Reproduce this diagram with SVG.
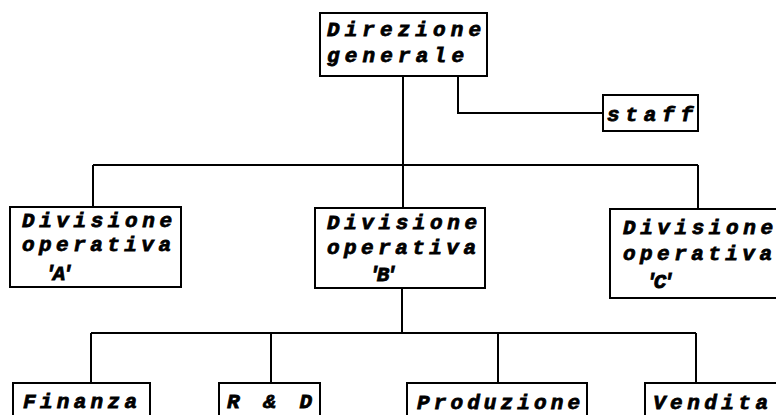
<svg xmlns="http://www.w3.org/2000/svg" width="776" height="415" viewBox="0 0 776 415">
<style>
.box{fill:#fff;stroke:#000;stroke-width:2}
.ln{fill:none;stroke:#000;stroke-width:2}
text{font-family:"Liberation Mono","DejaVu Sans Mono",monospace;font-weight:bold;font-style:italic;font-size:21px;fill:#000;stroke:#000;stroke-width:0.8}
.q{text-anchor:middle;letter-spacing:-4px}
</style>
<rect width="776" height="415" fill="#fff"/>
<g id="connectors" class="ln">
<path d="M403,76 V165"/>
<path d="M458,76 V113 H603"/>
<path d="M93,165 H698"/>
<path d="M93,165 V207"/>
<path d="M403,165 V208"/>
<path d="M698,165 V209"/>
<path d="M402,288 V333"/>
<path d="M91,333 H696"/>
<path d="M91,333 V383"/>
<path d="M271,333 V383"/>
<path d="M498,333 V383"/>
<path d="M696,333 V383"/>
</g>
<g id="direzione">
<rect class="box" x="320" y="13" width="167" height="63"/>
<text x="327" y="36" textLength="154" lengthAdjust="spacing">Direzione</text>
<text x="327" y="62" textLength="137" lengthAdjust="spacing">generale</text>
</g>
<g id="staff">
<rect class="box" x="603" y="95" width="95" height="36"/>
<text x="607" y="121" textLength="86" lengthAdjust="spacing">staff</text>
</g>
<g id="divA">
<rect class="box" x="10" y="207" width="171" height="80"/>
<text x="22" y="227" textLength="150" lengthAdjust="spacing">Divisione</text>
<text x="22" y="251" textLength="149" lengthAdjust="spacing">operativa</text>
<text class="q" x="57" y="280">'A'</text>
</g>
<g id="divB">
<rect class="box" x="315" y="208" width="170" height="80"/>
<text x="327" y="229" textLength="150" lengthAdjust="spacing">Divisione</text>
<text x="327" y="254" textLength="149" lengthAdjust="spacing">operativa</text>
<text class="q" x="381" y="281">'B'</text>
</g>
<g id="divC">
<rect class="box" x="610" y="209" width="180" height="89"/>
<text x="623" y="234" textLength="150" lengthAdjust="spacing">Divisione</text>
<text x="623" y="260" textLength="149" lengthAdjust="spacing">operativa</text>
<text class="q" x="658" y="288">'C'</text>
</g>
<g id="finanza">
<rect class="box" x="13" y="383" width="137" height="45"/>
<text x="23" y="408" textLength="114" lengthAdjust="spacing">Finanza</text>
</g>
<g id="rd">
<rect class="box" x="219" y="383" width="101" height="45"/>
<text x="227" y="408" textLength="85" lengthAdjust="spacing">R &amp; D</text>
</g>
<g id="produzione">
<rect class="box" x="407" y="383" width="180" height="45"/>
<text x="417" y="409" textLength="163" lengthAdjust="spacing">Produzione</text>
</g>
<g id="vendita">
<rect class="box" x="645" y="383" width="145" height="45"/>
<text x="653" y="409" textLength="115" lengthAdjust="spacing">Vendita</text>
</g>
</svg>
